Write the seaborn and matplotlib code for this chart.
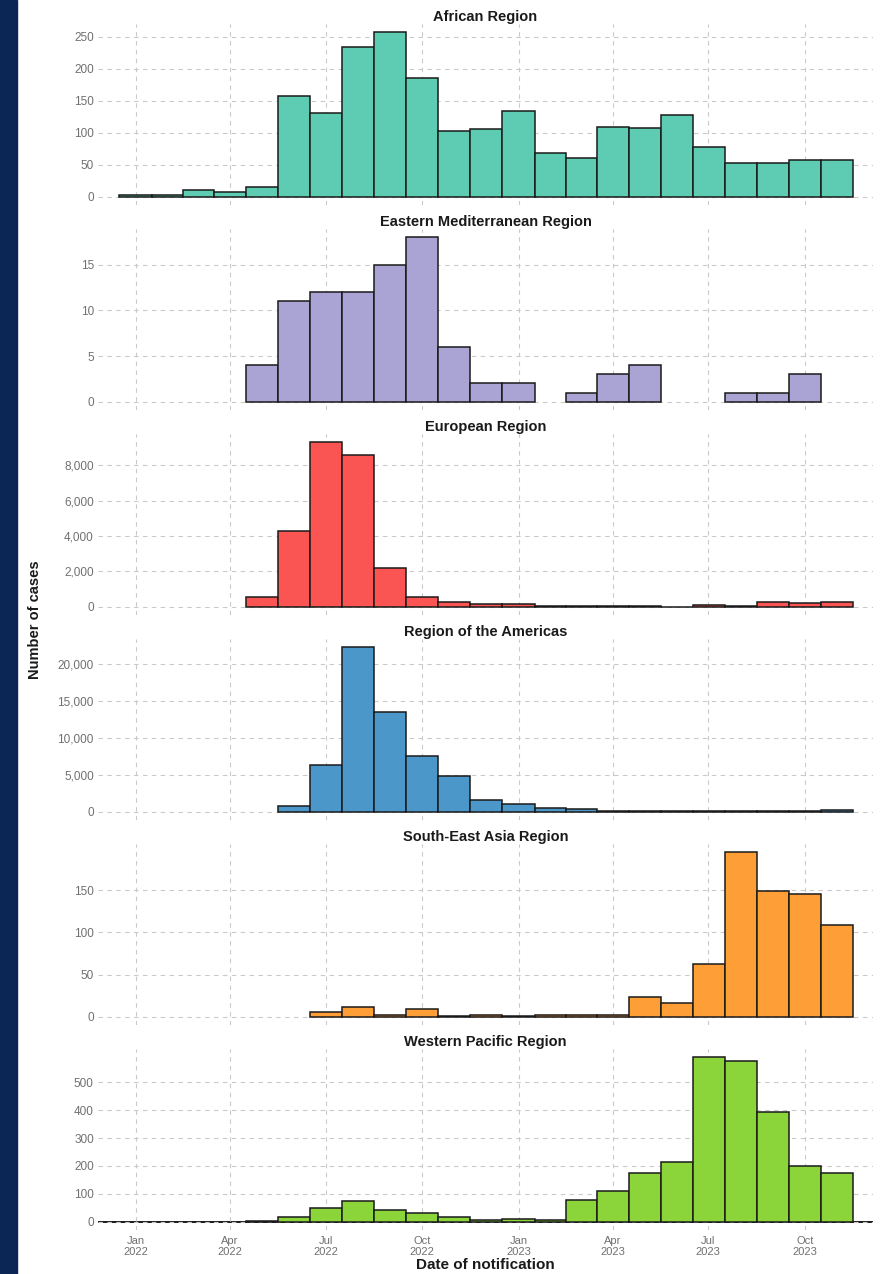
import numpy as np
import pandas as pd
import matplotlib
matplotlib.use("Agg")
import matplotlib.pyplot as plt
import matplotlib.dates as mdates
from matplotlib.ticker import MaxNLocator, FuncFormatter
from matplotlib.patches import Rectangle
import seaborn as sns

# monthly notifications, Jan 2022 .. Nov 2023
months = pd.date_range("2022-01-01", "2023-11-01", freq="MS")

regions = [
    "African Region",
    "Eastern Mediterranean Region",
    "European Region",
    "Region of the Americas",
    "South-East Asia Region",
    "Western Pacific Region",
]
colors = ["#5ecbb3", "#aaa4d5", "#fa5552", "#4b97c9", "#fd9f36", "#8bd53b"]

african = [3, 3, 10, 7, 16, 157, 131, 234, 257, 185, 103, 106,
           134, 69, 61, 109, 108, 127, 77, 53, 52, 57, 57]
eastern_med = [0, 0, 0, 0, 4, 11, 12, 12, 15, 18, 6, 2,
               2, 0, 1, 3, 4, 0, 0, 1, 1, 3, 0]
european = [0, 0, 0, 0, 560, 4280, 9300, 8600, 2170, 580, 260, 170,
            140, 40, 20, 40, 30, 15, 100, 50, 260, 190, 270]
americas = [0, 0, 0, 0, 0, 780, 6300, 22300, 13500, 7600, 4800, 1550,
            1100, 550, 330, 120, 110, 90, 80, 90, 60, 90, 300]
south_east_asia = [0, 0, 0, 0, 0, 0, 6, 12, 2, 9, 1, 2,
                   1, 2, 2, 2, 23, 16, 63, 195, 149, 146, 109]
western_pacific = [0, 0, 0, 0, 3, 17, 51, 75, 42, 30, 17, 6,
                   10, 8, 78, 111, 174, 214, 590, 575, 393, 201, 174]

series = [african, eastern_med, european, americas, south_east_asia, western_pacific]

x_num = mdates.date2num(months)
mid = (x_num[:-1] + x_num[1:]) / 2
edges = [float(e) for e in np.concatenate([[x_num[0] - 15.5], mid, [x_num[-1] + 15]])]

sns.set_theme(style="white")
plt.rcParams["font.family"] = ["Liberation Sans", "DejaVu Sans"]

W, H = 891, 1274
fig, axes = plt.subplots(6, 1, figsize=(W / 100, H / 100), dpi=100, sharex=True)
fig.subplots_adjust(left=98 / W, right=873 / W, top=1 - 24 / H,
                    bottom=1 - 1230 / H, hspace=0.1326)

grid_kw = dict(color="#c9c9c9", linestyle=(0, (4, 4)), linewidth=0.8)

for ax, name, vals, col in zip(axes, regions, series, colors):
    df = pd.DataFrame({"month": x_num, "cases": np.asarray(vals, dtype=float)})
    sns.histplot(data=df, x="month", weights="cases", bins=edges,
                 color=col, alpha=1, edgecolor="#1a1a1a", linewidth=1.1, ax=ax)
    # zero months are not drawn in the original
    for p in ax.patches:
        if p.get_height() == 0:
            p.set_visible(False)

    vmax = max(vals)
    ax.set_ylim(-0.05 * vmax, 1.05 * vmax)
    ticks = [t for t in MaxNLocator(nbins=6, steps=[1, 2, 5, 10]).tick_values(0, vmax)
             if 0 <= t <= vmax]
    ax.set_yticks(ticks)
    ax.yaxis.set_major_formatter(FuncFormatter(lambda v, p: f"{v:,.0f}"))

    ax.set_title(name, fontsize=10.5, fontweight="bold", color="#1a1a1a", pad=2)
    ax.set_xlabel("")
    ax.set_ylabel("")
    ax.grid(True, axis="both", **grid_kw)
    ax.set_axisbelow(True)
    for s in ax.spines.values():
        s.set_visible(False)
    ax.tick_params(axis="both", length=0, pad=3, labelsize=8.5, labelcolor="#707070")

ax = axes[-1]
ax.axhline(0, color="#1a1a1a", linewidth=1.4, zorder=0.5)
ax.set_xlim(x_num[0] - 36, x_num[-1] + 34)
ax.xaxis.set_major_locator(mdates.MonthLocator(bymonth=[1, 4, 7, 10]))
ax.xaxis.set_major_formatter(mdates.DateFormatter("%b\n%Y"))
for a in axes:
    a.tick_params(axis="x", labelbottom=False)
ax.tick_params(axis="x", labelbottom=True, pad=4, labelsize=8)

fig.text(35 / W, 1 - 620 / H, "Number of cases", rotation=90, ha="center",
         va="center", fontsize=10.5, fontweight="bold", color="#1a1a1a")
fig.text(485 / W, 1 - 1265 / H, "Date of notification", ha="center",
         va="center", fontsize=11, fontweight="bold", color="#1a1a1a")

fig.patches.append(Rectangle((0, 0), 17 / W, 1, transform=fig.transFigure,
                             color="#0b2654", zorder=-1))

fig.savefig("out.png", dpi=100)
